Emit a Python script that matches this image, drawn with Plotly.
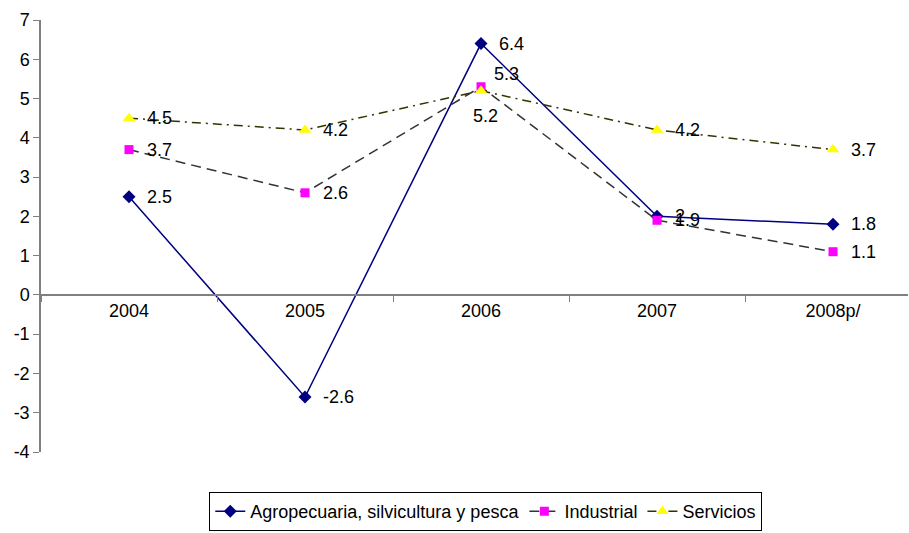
import plotly.graph_objects as go

years = ["2004", "2005", "2006", "2007", "2008p/"]
agro = [2.5, -2.6, 6.4, 2.0, 1.8]
agro_labels = ["2.5", "-2.6", "6.4", "2", "1.8"]
industrial = [3.7, 2.6, 5.3, 1.9, 1.1]
industrial_labels = ["3.7", "2.6", "5.3", "1.9", "1.1"]
servicios = [4.5, 4.2, 5.2, 4.2, 3.7]
servicios_labels = ["4.5", "4.2", "5.2", "4.2", "3.7"]
y_ticks = list(range(-4, 8))
y_ticktext = [str(v) for v in y_ticks]

FONT = "Liberation Sans, Arial, sans-serif"
FS = 18

fig = go.Figure()
fig.add_trace(go.Scatter(
    x=years, y=agro, name="Agropecuaria, silvicultura y pesca",
    mode="lines+markers",
    line=dict(color="#000080", width=1.5),
    marker=dict(symbol="diamond", size=10, color="#000080"),
))
fig.add_trace(go.Scatter(
    x=years, y=industrial, name="Industrial",
    mode="lines+markers",
    line=dict(color="#333333", width=1.5, dash="10px,6px"),
    marker=dict(symbol="square", size=9, color="#FF00FF"),
))
fig.add_trace(go.Scatter(
    x=years, y=servicios, name="Servicios",
    mode="lines+markers",
    line=dict(color="#333300", width=1.5, dash="9px,5px,2px,5px"),
    marker=dict(symbol="triangle-up", size=11, color="#FFFF00"),
))

annotations = []
def add_labels(vals, labels, special=None):
    for i, (v, t) in enumerate(zip(vals, labels)):
        xs, ys, xa = 16, 0, "left"
        if special and i in special:
            xs, ys, xa = special[i]
        annotations.append(dict(x=i, y=v, xref="x", yref="y", text=t, showarrow=False,
                                xanchor=xa, yanchor="middle", xshift=xs, yshift=ys,
                                font=dict(family=FONT, size=FS, color="black")))

add_labels(agro, agro_labels)
add_labels(industrial, industrial_labels, {2: (11, 13, "left")})
add_labels(servicios, servicios_labels, {2: (4, -25, "center")})

fig.update_layout(
    template="none",
    width=909, height=533,
    margin=dict(l=41, r=1, t=20, b=81),
    paper_bgcolor="white", plot_bgcolor="white",
    font=dict(family=FONT, size=FS, color="black"),
    showlegend=True,
    legend=dict(orientation="h", x=0.513, xanchor="center", y=-0.183, yanchor="bottom",
                bordercolor="black", borderwidth=1, bgcolor="white",
                font=dict(family=FONT, size=18), tracegroupgap=0),
    annotations=annotations,
    xaxis=dict(
        type="category", range=[-0.5, 4.426], automargin=False,
        anchor="free", position=4/11,
        showline=True, linecolor="#808080", linewidth=1.5,
        ticks="outside", ticklen=6, tickcolor="#808080", tickson="boundaries",
        showgrid=False, zeroline=False,
        tickfont=dict(family=FONT, size=FS),
    ),
    yaxis=dict(
        range=[-4, 7], tickvals=y_ticks, ticktext=y_ticktext, automargin=False,
        showline=True, linecolor="#808080", linewidth=1.5,
        ticks="outside", ticklen=6, tickcolor="#808080",
        showgrid=False, zeroline=False,
        tickfont=dict(family=FONT, size=FS),
    ),
)

fig.write_html("out.html", config={"displayModeBar": False},
               post_script="document.body.style.margin='0';document.body.style.overflow='hidden';")
